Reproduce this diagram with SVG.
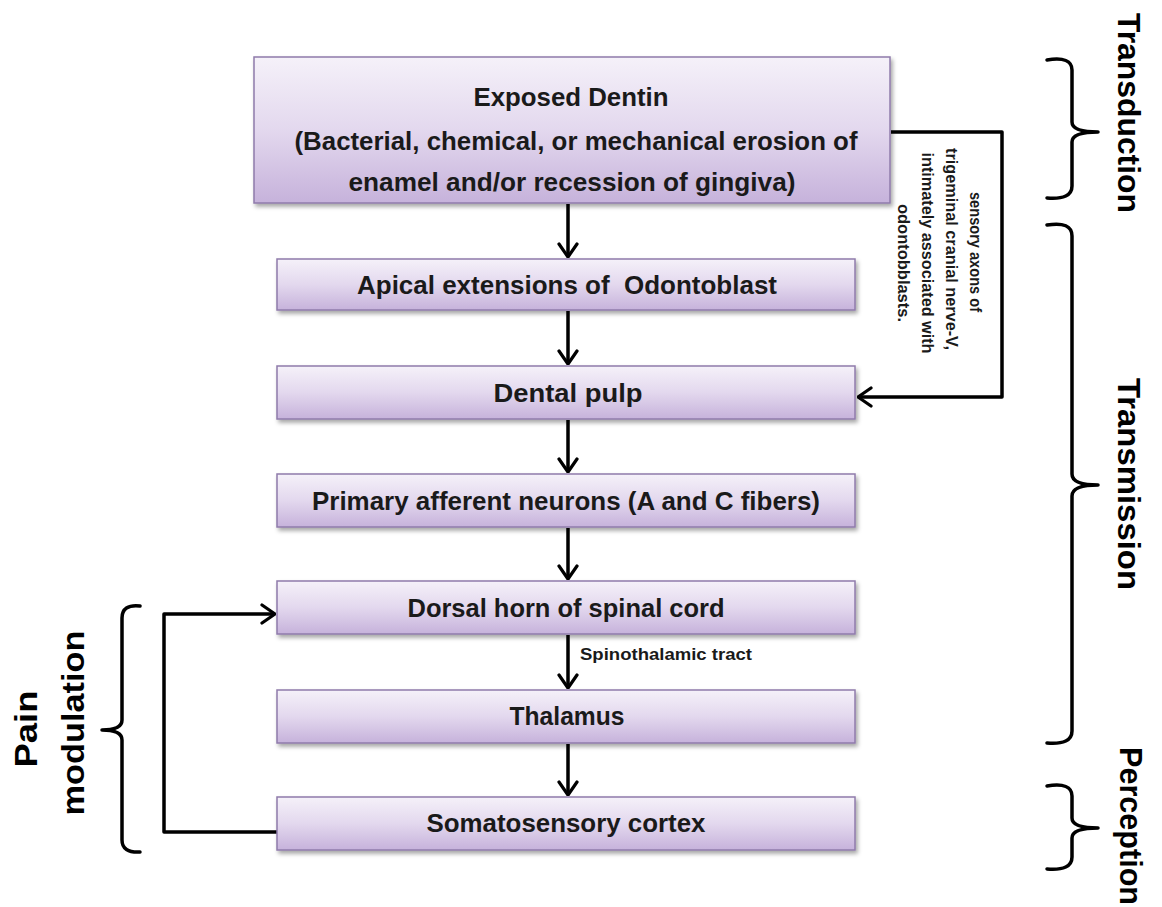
<svg xmlns="http://www.w3.org/2000/svg" width="1162" height="907" viewBox="0 0 1162 907">
  <defs>
    <linearGradient id="boxFill" x1="0" y1="0" x2="0" y2="1">
      <stop offset="0" stop-color="#f5f1f9"/>
      <stop offset="0.5" stop-color="#e3d8ee"/>
      <stop offset="1" stop-color="#c6b2db"/>
    </linearGradient>
    <filter id="shadow" x="-5%" y="-20%" width="110%" height="150%">
      <feDropShadow dx="2" dy="3" stdDeviation="2" flood-color="#000" flood-opacity="0.35"/>
    </filter>
    <marker id="arrow" viewBox="0 0 16 22" refX="15" refY="11" markerWidth="16" markerHeight="22" markerUnits="userSpaceOnUse" orient="auto">
      <path d="M2,2 L15,11 L2,20" fill="none" stroke="#000" stroke-width="3.2" stroke-linecap="round" stroke-linejoin="round"/>
    </marker>
  </defs>
  <style>
    .box { fill: url(#boxFill); stroke: #8f7bab; stroke-width: 1.5; filter: url(#shadow); }
    .label { font-family: "Liberation Sans", Arial, sans-serif; font-weight: bold; font-size: 25px; fill: #1a1a1a; text-anchor: middle; white-space: pre; }
    .side { font-family: "Liberation Sans", Arial, sans-serif; font-weight: bold; font-size: 31px; fill: #000; text-anchor: middle; }
    .note { font-family: "Liberation Sans", Arial, sans-serif; font-weight: bold; font-size: 17px; fill: #1a1a1a; text-anchor: middle; }
    .conn { fill: none; stroke: #000; stroke-width: 3.5; stroke-linejoin: round; }
    .brace { fill: none; stroke: #000; stroke-width: 3.5; stroke-linecap: round; stroke-linejoin: round; }
  </style>

  <rect width="1162" height="907" fill="#ffffff"/>

  <!-- connectors -->
  <g id="connectors">
    <line class="conn" x1="568" y1="204" x2="568" y2="257" marker-end="url(#arrow)"/>
    <line class="conn" x1="568" y1="311" x2="568" y2="364" marker-end="url(#arrow)"/>
    <line class="conn" x1="568" y1="420" x2="568" y2="472" marker-end="url(#arrow)"/>
    <line class="conn" x1="568" y1="528" x2="568" y2="579" marker-end="url(#arrow)"/>
    <line class="conn" x1="568" y1="635" x2="568" y2="688" marker-end="url(#arrow)"/>
    <line class="conn" x1="568" y1="744" x2="568" y2="795" marker-end="url(#arrow)"/>
    <!-- trigeminal pathway from dentin to pulp -->
    <path class="conn" d="M891,132 H1002 V397 H858" marker-end="url(#arrow)"/>
    <!-- modulation feedback from cortex to dorsal horn -->
    <path class="conn" d="M277,832 H164 V614 H275" marker-end="url(#arrow)"/>
  </g>

  <!-- connector labels -->
  <g id="trigeminal-label">
    <text class="note" transform="translate(970,252) rotate(90)" textLength="120" lengthAdjust="spacingAndGlyphs">sensory axons of</text>
    <text class="note" transform="translate(946,249) rotate(90)" textLength="202" lengthAdjust="spacingAndGlyphs">trigeminal cranial nerve-V,</text>
    <text class="note" transform="translate(922,253) rotate(90)" textLength="201" lengthAdjust="spacingAndGlyphs">intimately associated with</text>
    <text class="note" transform="translate(898,263) rotate(90)" textLength="118" lengthAdjust="spacingAndGlyphs">odontobblasts.</text>
  </g>
  <text class="note" x="666" y="660" font-size="16" textLength="172" lengthAdjust="spacingAndGlyphs">Spinothalamic tract</text>

  <!-- nodes -->
  <g id="exposed-dentin">
    <rect class="box" x="254" y="57" width="636" height="146"/>
    <text class="label" x="571" y="106" textLength="195" lengthAdjust="spacingAndGlyphs">Exposed Dentin</text>
    <text class="label" x="576" y="150" textLength="563" lengthAdjust="spacingAndGlyphs">(Bacterial, chemical, or mechanical erosion of</text>
    <text class="label" x="572" y="191" textLength="447" lengthAdjust="spacingAndGlyphs">enamel and/or recession of gingiva)</text>
  </g>
  <g id="apical-extensions">
    <rect class="box" x="277" y="259" width="578" height="51"/>
    <text class="label" x="567" y="294" textLength="420" lengthAdjust="spacingAndGlyphs" xml:space="preserve">Apical extensions of  Odontoblast</text>
  </g>
  <g id="dental-pulp">
    <rect class="box" x="277" y="366" width="578" height="53"/>
    <text class="label" x="568" y="402" textLength="149" lengthAdjust="spacingAndGlyphs">Dental pulp</text>
  </g>
  <g id="primary-afferent">
    <rect class="box" x="277" y="474" width="578" height="53"/>
    <text class="label" x="566" y="510" textLength="508" lengthAdjust="spacingAndGlyphs">Primary afferent neurons (A and C fibers)</text>
  </g>
  <g id="dorsal-horn">
    <rect class="box" x="277" y="581" width="578" height="53"/>
    <text class="label" x="566" y="617" textLength="317" lengthAdjust="spacingAndGlyphs">Dorsal horn of spinal cord</text>
  </g>
  <g id="thalamus">
    <rect class="box" x="277" y="690" width="578" height="53"/>
    <text class="label" x="567" y="725" textLength="115" lengthAdjust="spacingAndGlyphs">Thalamus</text>
  </g>
  <g id="somatosensory-cortex">
    <rect class="box" x="277" y="797" width="578" height="53"/>
    <text class="label" x="566" y="832" textLength="279" lengthAdjust="spacingAndGlyphs">Somatosensory cortex</text>
  </g>

  <!-- stage braces and labels -->
  <g id="transduction">
    <path class="brace" d="M1047,60 Q1072,56 1072,70 V122 Q1072,132 1098,132 Q1072,132 1072,142 V186 Q1072,200 1047,198"/>
    <text class="side" transform="translate(1118,113) rotate(90)" textLength="200" lengthAdjust="spacingAndGlyphs">Transduction</text>
  </g>
  <g id="transmission">
    <path class="brace" d="M1047,225 Q1072,221 1072,236 V474 Q1072,485 1098,485 Q1072,485 1072,496 V731 Q1072,745 1047,743"/>
    <text class="side" transform="translate(1118,484) rotate(90)" textLength="212" lengthAdjust="spacingAndGlyphs">Transmission</text>
  </g>
  <g id="perception">
    <path class="brace" d="M1047,786 Q1072,782 1072,796 V818 Q1072,828 1098,828 Q1072,828 1072,838 V857 Q1072,871 1047,869"/>
    <text class="side" transform="translate(1120,826) rotate(90)" textLength="158" lengthAdjust="spacingAndGlyphs">Perception</text>
  </g>
  <g id="pain-modulation">
    <path class="brace" d="M140,606 Q122,604 122,618 V720 Q122,730 102,730 Q122,730 122,740 V840 Q122,853 140,852"/>
    <text class="side" transform="translate(37,729) rotate(-90)" textLength="77" lengthAdjust="spacingAndGlyphs">Pain</text>
    <text class="side" transform="translate(84,723) rotate(-90)" textLength="185" lengthAdjust="spacingAndGlyphs">modulation</text>
  </g>
</svg>
